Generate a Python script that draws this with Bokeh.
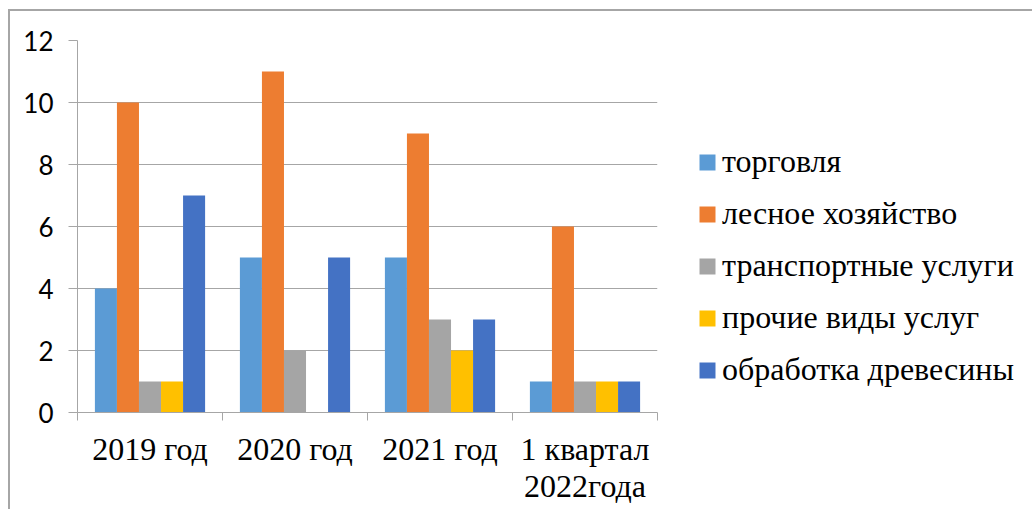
from bokeh.plotting import figure
from bokeh.models import Range1d, FixedTicker, Legend, LegendItem, ColumnDataSource
from bokeh.transform import dodge
from bokeh.embed import file_html
from bokeh.resources import INLINE

categories = ["2019 год", "2020 год", "2021 год", "1 квартал\n2022года"]
series_names = ["торговля", "лесное хозяйство", "транспортные услуги",
                "прочие виды услуг", "обработка древесины"]
torgovlya = [4, 5, 5, 1]
lesnoe = [10, 11, 9, 6]
transport = [1, 2, 3, 1]
prochie = [1, 0, 2, 1]
obrabotka = [7, 5, 3, 1]
colors = ["#5B9BD5", "#ED7D31", "#A5A5A5", "#FFC000", "#4472C4"]
y_ticks = [0, 2, 4, 6, 8, 10, 12]

series = [torgovlya, lesnoe, transport, prochie, obrabotka]
n = len(categories)
x_pos = list(range(n))
data = {"x": x_pos}
for i, s in enumerate(series):
    data[f"s{i}"] = s
src = ColumnDataSource(data)

p = figure(width=1014, height=498, output_backend="svg", toolbar_location=None,
           x_range=Range1d(-0.5, n - 0.5), y_range=Range1d(0, 12),
           min_border_left=67, min_border_top=29, min_border_right=367,
           min_border_bottom=97, frame_width=580, frame_height=372)
p.styles = {"margin-left": "8px", "margin-top": "9px",
            "border-top": "2px solid #a6a6a6", "border-left": "2px solid #a6a6a6"}
p.outline_line_color = None
p.background_fill_color = "white"
p.border_fill_color = "white"

bw = 0.152
renderers = []
for i in range(len(series)):
    off = (i - (len(series) - 1) / 2) * bw
    r = p.vbar(x=dodge("x", off, range=p.x_range), top=f"s{i}", width=bw,
               bottom=0, source=src, fill_color=colors[i], line_color=None)
    renderers.append(r)

# y axis
p.yaxis.ticker = FixedTicker(ticks=y_ticks)
p.yaxis.axis_line_color = "#a6a6a6"
p.yaxis.major_tick_line_color = "#a6a6a6"
p.yaxis.major_tick_out = 9
p.yaxis.major_tick_in = 0
p.yaxis.minor_tick_line_color = None
p.yaxis.major_label_text_font = "Lato"
p.yaxis.major_label_text_font_size = "26px"
p.yaxis.major_label_text_color = "#000000"
p.yaxis.major_label_standoff = 15

# x axis
p.xaxis.ticker = FixedTicker(ticks=x_pos, minor_ticks=[k - 0.5 for k in range(n + 1)])
p.xaxis.major_label_overrides = {k: c for k, c in zip(x_pos, categories)}
p.xaxis.axis_line_color = "#a6a6a6"
p.xaxis.major_tick_line_color = None
p.xaxis.major_tick_out = 0
p.xaxis.major_tick_in = 0
p.xaxis.minor_tick_line_color = "#a6a6a6"
p.xaxis.minor_tick_out = 8
p.xaxis.minor_tick_in = 0
p.xaxis.major_label_text_font = "Liberation Serif"
p.xaxis.major_label_text_font_size = "32px"
p.xaxis.major_label_text_color = "#000000"
p.xaxis.major_label_text_line_height = 1.03
p.xaxis.major_label_standoff = 10

p.xgrid.grid_line_color = None
p.ygrid.ticker = FixedTicker(ticks=y_ticks)
p.ygrid.grid_line_color = "#a6a6a6"

legend = Legend(items=[LegendItem(label=nm, renderers=[r]) for nm, r in zip(series_names, renderers)],
                location=(40, 24), orientation="vertical",
                glyph_width=20, glyph_height=20, label_standoff=5,
                label_height=36, spacing=15, padding=0, margin=0,
                border_line_color=None, background_fill_alpha=0,
                label_text_font="Liberation Serif", label_text_font_size="32px",
                label_text_color="#000000")
p.add_layout(legend, "right")

open("out.html", "w").write(file_html(p, INLINE))
